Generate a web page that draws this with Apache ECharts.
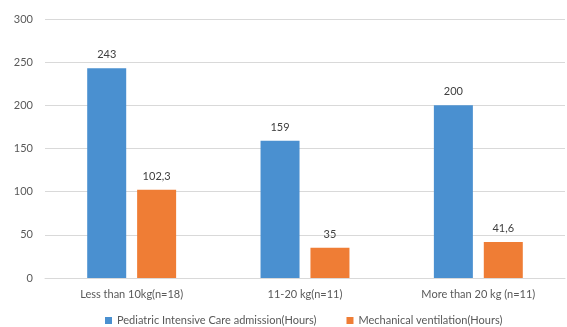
<!DOCTYPE html>
<html>
<head>
<meta charset="utf-8">
<script src="https://cdn.jsdelivr.net/npm/echarts@6/dist/echarts.min.js"></script>
<style>
  html, body { margin: 0; padding: 0; background: #fff; }
  #chart { width: 567px; height: 327px; }
</style>
</head>
<body>
<div id="chart"></div>
<script>
// Weight groups and durations (hours)
const categories = ['Less than 10kg(n=18)', '11-20 kg(n=11)', 'More than 20 kg (n=11)'];
const picuHours = [243, 159, 200];
const ventilationHours = [102.3, 35, 41.6];
const seriesNames = ['Pediatric Intensive Care admission(Hours)', 'Mechanical ventilation(Hours)'];

const FONT = 'Lato, "Open Sans", sans-serif';
const fmtComma = p => String(p.value).replace('.', ',');

const chart = echarts.init(document.getElementById('chart'), null, { renderer: 'canvas' });
chart.setOption({
  animation: false,
  textStyle: { fontFamily: FONT },
  grid: { left: 45, right: 2, top: 19, bottom: 49, containLabel: false },
  legend: {
    bottom: 1,
    left: 100,
    padding: [0, 5, 0, 5],
    itemWidth: 7,
    itemHeight: 7,
    itemGap: 30,
    icon: 'rect',
    textStyle: { color: '#595959', fontSize: 11, fontFamily: FONT },
    data: seriesNames
  },
  xAxis: {
    type: 'category',
    data: categories,
    axisLine: { lineStyle: { color: '#d9d9d9' } },
    axisTick: { show: false },
    axisLabel: { color: '#595959', fontSize: 11, margin: 11, fontFamily: FONT }
  },
  yAxis: {
    type: 'value',
    min: 0,
    max: 300,
    interval: 50,
    axisLine: { show: false },
    axisTick: { show: false },
    splitLine: { lineStyle: { color: '#d9d9d9' } },
    axisLabel: { color: '#595959', fontSize: 11, margin: 12, fontFamily: FONT }
  },
  series: [
    {
      name: seriesNames[0],
      type: 'bar',
      data: picuHours,
      barWidth: 39,
      barGap: '28%',
      itemStyle: { color: '#4a90d0' },
      label: { show: true, position: 'top', distance: 8, color: '#404040', fontSize: 11, fontFamily: FONT, formatter: fmtComma }
    },
    {
      name: seriesNames[1],
      type: 'bar',
      data: ventilationHours,
      barWidth: 39,
      barGap: '28%',
      itemStyle: { color: '#ef7d35' },
      label: { show: true, position: 'top', distance: 8, color: '#404040', fontSize: 11, fontFamily: FONT, formatter: fmtComma }
    }
  ]
});
</script>
</body>
</html>
